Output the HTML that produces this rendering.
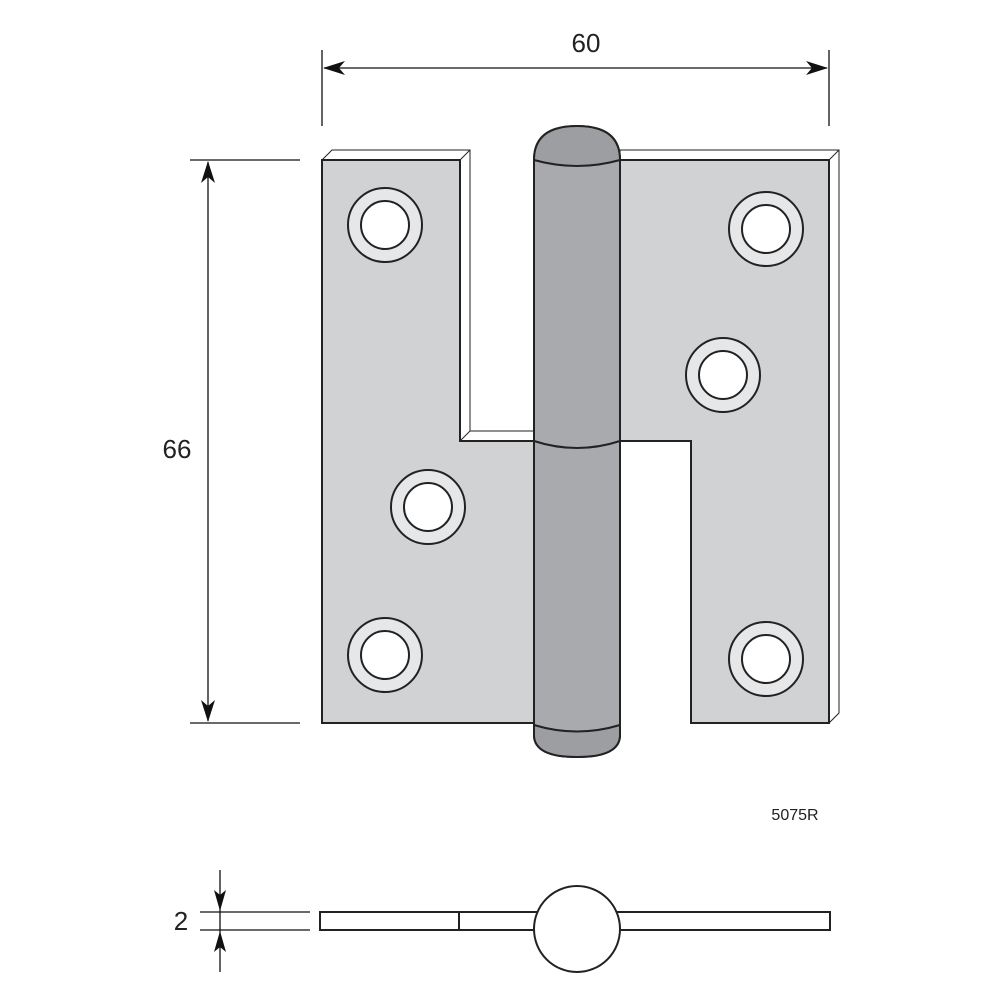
<!DOCTYPE html>
<html><head><meta charset="utf-8"><style>body{margin:0;background:#fff}svg{display:block}</style></head><body>
<svg width="1000" height="1000" viewBox="0 0 1000 1000" xmlns="http://www.w3.org/2000/svg" font-family="Liberation Sans, sans-serif">
<!-- top dimension -->
<line x1="322" y1="50" x2="322" y2="126" stroke="#111" stroke-width="1.3"/>
<line x1="829" y1="50" x2="829" y2="126" stroke="#111" stroke-width="1.3"/>
<line x1="324" y1="68" x2="827" y2="68" stroke="#111" stroke-width="1.3"/>
<path d="M323,68 L345,61 L339,68 L345,75 Z" fill="#111"/>
<path d="M828,68 L806,61 L812,68 L806,75 Z" fill="#111"/>
<text x="586" y="52" font-size="26" text-anchor="middle" fill="#222">60</text>
<!-- left dimension -->
<line x1="190" y1="160" x2="300" y2="160" stroke="#111" stroke-width="1.3"/>
<line x1="190" y1="723" x2="300" y2="723" stroke="#111" stroke-width="1.3"/>
<line x1="208" y1="162" x2="208" y2="721" stroke="#111" stroke-width="1.3"/>
<path d="M208,161 L201,183 L208,177 L215,183 Z" fill="#111"/>
<path d="M208,722 L201,700 L208,706 L215,700 Z" fill="#111"/>
<text x="177" y="458" font-size="26" text-anchor="middle" fill="#222">66</text>
<!-- 3D edges -->
<path d="M322,160 L332,150 L470,150 L470,431 L536,431 L536,441 L460,441 L460,160 Z" fill="#fff" stroke="#222" stroke-width="1"/>
<line x1="460" y1="160" x2="470" y2="150" stroke="#222" stroke-width="1"/>
<line x1="460" y1="441" x2="470" y2="431" stroke="#222" stroke-width="1"/>
<path d="M620,150 L839,150 L839,713 L829,723 L829,160 L620,160 Z" fill="#fff" stroke="#222" stroke-width="1"/>
<line x1="829" y1="160" x2="839" y2="150" stroke="#222" stroke-width="1"/>
<!-- leaves -->
<path d="M322,160 L460,160 L460,441 L536,441 L536,723 L322,723 Z" fill="#d1d2d4" stroke="#222" stroke-width="2"/>
<path d="M620,160 L829,160 L829,723 L691,723 L691,441 L620,441 Z" fill="#d1d2d4" stroke="#222" stroke-width="2"/>
<!-- holes -->
<g fill="#e6e7e8" stroke="#222" stroke-width="2">
<circle cx="385" cy="225" r="37"/><circle cx="766" cy="229" r="37"/><circle cx="723" cy="375" r="37"/>
<circle cx="428" cy="507" r="37"/><circle cx="385" cy="655" r="37"/><circle cx="766" cy="659" r="37"/>
</g>
<g fill="#fff" stroke="#222" stroke-width="2">
<circle cx="385" cy="225" r="24"/><circle cx="766" cy="229" r="24"/><circle cx="723" cy="375" r="24"/>
<circle cx="428" cy="507" r="24"/><circle cx="385" cy="655" r="24"/><circle cx="766" cy="659" r="24"/>
</g>
<!-- knuckle -->
<path d="M534,160 Q534,126 577,126 Q620,126 620,160 L620,725 L620,735 Q620,757 577,757 Q534,757 534,735 Z" fill="#a9aaad" stroke="#222" stroke-width="2"/>
<path d="M534,160 Q577,172 620,160 Q620,126 577,126 Q534,126 534,160 Z" fill="#9d9ea1" stroke="#222" stroke-width="2"/>
<path d="M534,725 Q577,738 620,725 L620,735 Q620,757 577,757 Q534,757 534,735 Z" fill="#9d9ea1" stroke="#222" stroke-width="2"/>
<path d="M534,441 Q577,455 620,441" fill="none" stroke="#222" stroke-width="2"/>
<text x="795" y="820" font-size="16" text-anchor="middle" fill="#222">5075R</text>
<!-- bottom view -->
<line x1="200" y1="912" x2="310" y2="912" stroke="#111" stroke-width="1.3"/>
<line x1="200" y1="930" x2="310" y2="930" stroke="#111" stroke-width="1.3"/>
<line x1="220" y1="870" x2="220" y2="972" stroke="#111" stroke-width="1.3"/>
<path d="M220,911 L214,890 L220,895 L226,890 Z" fill="#111"/>
<path d="M220,931 L214,952 L220,947 L226,952 Z" fill="#111"/>
<text x="181" y="930" font-size="26" text-anchor="middle" fill="#222">2</text>
<rect x="320" y="912" width="510" height="18" fill="#fff" stroke="#222" stroke-width="2"/>
<line x1="459" y1="912" x2="459" y2="930" stroke="#222" stroke-width="2"/>
<circle cx="577" cy="929" r="43" fill="#fff" stroke="#222" stroke-width="2"/>
</svg>
</body></html>
